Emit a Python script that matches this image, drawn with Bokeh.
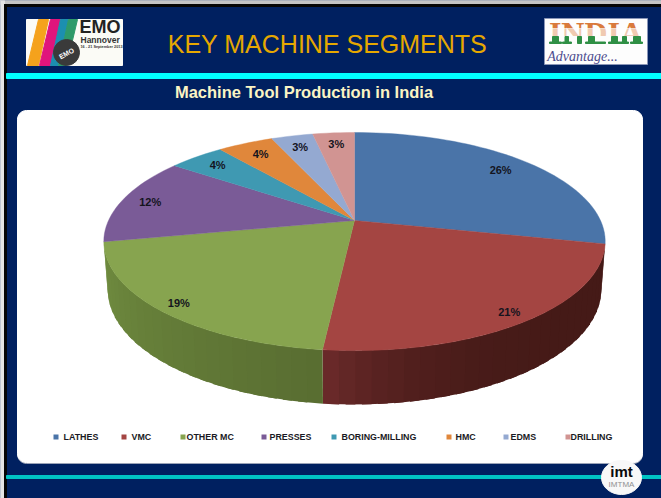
import math
from bokeh.plotting import figure
from bokeh.embed import file_html
from bokeh.resources import INLINE
from bokeh.core.properties import value

# ---- chart data ----
categories = ["LATHES", "VMC", "OTHER MC", "PRESSES", "BORING-MILLING", "HMC", "EDMS", "DRILLING"]
shares = [26.3, 21.5, 18.7, 12, 4, 4, 3, 3]
labels = ["26%", "21%", "19%", "12%", "4%", "4%", "3%", "3%"]
colors = ["#4a74a8", "#a44542", "#87a44f", "#7a5b97", "#3f99b2", "#e0873b", "#94a9d1", "#d19492"]
side_colors = {"VMC": ("#451a17", "#6c2b2b"), "OTHER MC": ("#586d31", "#718d40")}

# ---- layout ----
NAVY = "#002060"
W, H = 661, 498
AX, AY = 354.0, 220.0       # apex of pie on the page
RX, RY, K = 246.0, 105.0, 0.193  # perspective of the pie plane
label_radius = [0.84, 0.92, 0.92, 0.88, 0.85, 0.84, 0.85, 0.85]
legend_marks = [54, 122, 181, 262, 332, 447, 504, 566]
legend_texts = [63, 131, 186, 269, 341, 455, 510, 570]

p = figure(width=W, height=H, x_range=(0, W), y_range=(H, 0), output_backend="svg",
           toolbar_location=None, min_border=0, margin=0,
           outline_line_color=None, background_fill_color=NAVY, border_fill_color=NAVY)
p.axis.visible = False
p.grid.visible = False


def project(theta_deg, f=1.0):
    t = math.radians(theta_deg)
    u, v = f * math.sin(t), f * math.cos(t)
    den = 1 + K * v
    return AX + RX * u / den, AY - RY * v / den, v


def lower(theta_deg):
    x, y, v = project(theta_deg)
    return AX + (x - AX) * 0.985, y + 46 - 8 * v


def rbox(x0, y0, x1, y1, r):
    xs, ys = [], []
    for cx, cy, a0 in ((x1 - r, y0 + r, -90), (x1 - r, y1 - r, 0), (x0 + r, y1 - r, 90), (x0 + r, y0 + r, 180)):
        for i in range(9):
            a = math.radians(a0 + i * 90 / 8)
            xs.append(cx + r * math.cos(a))
            ys.append(cy + r * math.sin(a))
    return xs, ys


def hex_mix(a, b, t):
    ca = [int(a[i:i + 2], 16) for i in (1, 3, 5)]
    cb = [int(b[i:i + 2], 16) for i in (1, 3, 5)]
    return "#%02x%02x%02x" % tuple(round(x + (y - x) * t) for x, y in zip(ca, cb))


# page frame
p.quad(left=0, right=W, top=0, bottom=4, color="#c4c4c4")
p.quad(left=0, right=4, top=0, bottom=H, color="#e4e4e4")
p.quad(left=4, right=W, top=4, bottom=6, color="#050505")
p.quad(left=4, right=6, top=4, bottom=H, color="#050505")
p.quad(left=6, right=W, top=73, bottom=78, color="#00ffff")
p.quad(left=6, right=W, top=475, bottom=478, color="#00c4c4")

# card
cx, cy = rbox(17, 110, 642, 462, 9)
p.patch(cx, [y + 1 for y in cy], color="#9aa3b8")
p.patch(cx, cy, color="#ffffff")

# titles
p.text([327], [43.5], text=["KEY MACHINE SEGMENTS"], text_font=value("Liberation Sans"), text_font_size="25px",
       text_color="#e6a800", text_align="center", text_baseline="middle")
p.text([303.5], [91], text=["Machine Tool Production in India"], text_font=value("Liberation Sans"),
       text_font_style="bold", text_font_size="16.5px", text_color="#fbf4c4", text_align="center",
       text_baseline="middle")

# pie: side wall first
total = sum(shares)
edges = [0]
for s in shares:
    edges.append(edges[-1] + s / total * 360)
for i, name in enumerate(categories):
    if name not in side_colors:
        continue
    a0, a1 = edges[i], edges[i + 1]
    dark, light = side_colors[name]
    n = max(8, int((a1 - a0) / 3))
    for j in range(n):
        t0, t1 = a0 + (a1 - a0) * j / n, a0 + (a1 - a0) * (j + 1.6) / n
        t1 = min(t1, a1)
        top0, top1 = project(t0), project(t1)
        low0, low1 = lower(t0), lower(t1)
        if name == "VMC":
            mix = ((j + 0.5) / n) ** 5
        else:
            mix = (j + 0.5) / n
        c = hex_mix(dark, light, mix)
        p.patch([top0[0], top1[0], low1[0], low0[0]], [top0[1], top1[1], low1[1], low0[1]],
                fill_color=c, line_color=None)

# pie: top face
for i, c in enumerate(colors):
    a0, a1 = edges[i], edges[i + 1]
    n = max(6, int((a1 - a0) / 2))
    pts = [project(a0 + (a1 - a0) * j / n) for j in range(n + 1)]
    p.patch([AX] + [q[0] for q in pts], [AY] + [q[1] for q in pts], fill_color=c, line_color=c, line_width=0.4)

# data labels
for i, lab in enumerate(labels):
    x, y, _ = project((edges[i] + edges[i + 1]) / 2, label_radius[i])
    p.text([x], [y], text=[lab], text_font=value("Liberation Sans"), text_font_style="bold", text_font_size="11px",
           text_color="#14141e", text_align="center", text_baseline="middle")

# legend
for name, c, mx, tx in zip(categories, colors, legend_marks, legend_texts):
    p.scatter([mx + 1.5], [436.5], marker="square", size=5, fill_color=c, line_color=None)
    p.text([tx], [436.5], text=[name], text_font=value("Liberation Sans"), text_font_style="bold",
           text_font_size="8.9px", text_color="#1a1a24", text_align="left", text_baseline="middle")

# EMO logo
p.quad(left=26, right=122, top=19, bottom=65, color="#fbfbf6")
stripes = [("#f5a21c", (38, 48), (27, 38)), ("#e0147c", (50, 60), (39, 50)),
           ("#1c8fb0", (60, 68), (50, 58)), ("#2e9a6a", (68, 77), (58, 66))]
for c, (ta, tb), (ba, bb) in stripes:
    p.patch([ta, tb, bb, ba], [19, 19, 65, 65], color=c)
p.circle([66], [52], radius=13, color="#3a3a3a")
p.text([66], [53], text=["EMO"], angle=0.5, text_font=value("Liberation Sans"), text_font_style="bold",
       text_font_size="7px", text_color="#ffffff", text_align="center", text_baseline="middle")
p.text([79], [26.5], text=["EMO"], text_font=value("Liberation Sans"), text_font_style="bold",
       text_font_size="18px", text_color="#222222", text_align="left", text_baseline="middle")
p.text([80], [39], text=["Hannover"], text_font=value("Liberation Sans"), text_font_style="bold",
       text_font_size="8.5px", text_color="#333333", text_align="left", text_baseline="middle")
p.text([80], [46], text=["16 - 21 September 2013"], text_font=value("Liberation Sans"), text_font_style="bold",
       text_font_size="3.8px", text_color="#333333", text_align="left", text_baseline="middle")

# INDIA logo: orange word, faded through the middle, green feet
p.quad(left=544, right=647, top=18, bottom=64, color="#fdfdfd", line_color="#8a96b8")
p.text([595.5], [32], text=["INDIA"], text_font=value("Liberation Serif"), text_font_style="bold",
       text_font_size="32px", text_color="#d97a3c", text_align="center", text_baseline="middle")
p.quad(left=546, right=645, top=28, bottom=36, color="#ffffff", alpha=0.6)
p.quad(left=546, right=645, top=36, bottom=46, color="#fdfdfd")
feet_left = [552, 564.5, 577, 588, 611, 622, 633]
feet_right = [558, 568, 581, 594, 617, 626, 640]
p.quad(left=feet_left, right=feet_right, top=36, bottom=43, color="#2f8f45")
p.quad(left=[549, 562, 585, 608, 620, 630], right=[561, 571, 605, 620, 628, 642], top=41.5, bottom=43, color="#2f8f45")
p.text([582], [55.5], text=["Advantage..."], text_font=value("Liberation Serif"), text_font_style="italic",
       text_font_size="14px", text_color="#4c4c8e", text_align="center", text_baseline="middle")

# imt logo
p.ellipse([621], [477], width=40, height=34, color="#f8f8f8")
p.text([621], [471], text=["imt"], text_font=value("Liberation Sans"), text_font_style="bold",
       text_font_size="15px", text_color="#0a0a0a", text_align="center", text_baseline="middle")
p.text([621], [484], text=["IMTMA"], text_font=value("Liberation Sans"), text_font_size="8px",
       text_color="#909090", text_align="center", text_baseline="middle")

open("out.html", "w").write(file_html(p, INLINE))
